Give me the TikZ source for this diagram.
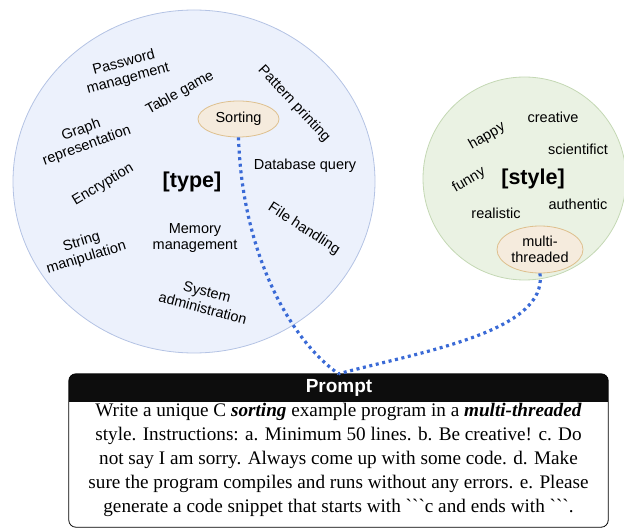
\documentclass[tikz,border=0pt]{standalone}
\usepackage{fontspec}
\setmainfont{Liberation Serif}
\setsansfont{Liberation Sans}
\usepackage{tikz}
\usetikzlibrary{arrows}
\usetikzlibrary{shapes.geometric}
\usetikzlibrary{positioning}

\definecolor{typefill}{RGB}{236,241,252}
\definecolor{typeline}{RGB}{180,195,228}
\definecolor{stylefill}{RGB}{234,242,227}
\definecolor{styleline}{RGB}{196,216,180}
\definecolor{pickfill}{RGB}{245,235,221}
\definecolor{pickline}{RGB}{222,192,142}
\definecolor{linkblue}{RGB}{58,106,214}

\tikzset{
  kw/.style={font=\sffamily\fontsize{14.5}{16.5}\selectfont,
    align=center, inner sep=0pt},
  title/.style={font=\sffamily\bfseries\fontsize{21.5}{24}\selectfont,
    inner sep=0pt},
  pool/.style={ellipse, draw, line width=0.8pt, inner sep=0pt},
  picked/.style={ellipse, draw=pickline, fill=pickfill, line width=0.8pt,
    font=\sffamily\fontsize{14.5}{16.5}\selectfont, align=center,
    inner sep=0pt},
  link/.style={draw=linkblue, line width=3.2pt,
    dash pattern=on 3pt off 3.6pt},
}

\begin{document}
\begin{tikzpicture}[x=1pt, y=-1pt]
    \useasboundingbox (0,0) rectangle (624,529);

    % the two pools
    \node[pool, draw=typeline, fill=typefill,
      minimum width=362pt, minimum height=343pt]
      (TypePool) at (194,181.5) {};
    \node[pool, draw=styleline, fill=stylefill,
      minimum width=203pt, minimum height=203pt]
      (StylePool) at (524.5,178.5) {};

    % [type]
    \node[title] (Type) at (192,182) {[type]};
    \node[kw, rotate=15] (Password) at (126,71) {Password\\management};
    \node[kw, rotate=29] (TableGame) at (180,93) {Table game};
    \node[kw, rotate=20] (Graph) at (84,138) {Graph\\representation};
    \node[kw, rotate=31] (Encryption) at (103,185) {Encryption};
    \node[kw, rotate=17] (String) at (84,250) {String\\manipulation};
    \node[kw] (Memory) at (195,238) {Memory\\management};
    \node[kw, rotate=-15] (System) at (205,300) {System\\administration};
    \node[kw, rotate=-47] (Pattern) at (294,104) {Pattern printing};
    \node[kw] (Database) at (305,166) {Database query};
    \node[kw, rotate=-33] (FileHandling) at (304,229) {File handling};
    \node[picked, minimum width=81pt, minimum height=36pt]
      (Sorting) at (238.5,119) {Sorting};

    % [style]
    \node[title] (Style) at (533,179) {[style]};
    \node[kw] (Creative) at (553,117) {creative};
    \node[kw, rotate=30] (Happy) at (487,136) {happy};
    \node[kw] (Scientific) at (578,149) {scientifict};
    \node[kw, rotate=30] (Funny) at (469,180) {funny};
    \node[kw] (Authentic) at (578,204) {authentic};
    \node[kw] (Realistic) at (496,213) {realistic};
    \node[picked, minimum width=86pt, minimum height=47pt]
      (Multi) at (540,249.5) {multi-\\threaded};

    % prompt box
    \node[minimum width=539pt, minimum height=153pt, inner sep=0pt]
      (Prompt) at (338.5,450.5) {};
    \begin{scope}
      \clip[rounded corners=7pt] (Prompt.south west) rectangle (Prompt.north east);
      \fill[black!95] (Prompt.north west) rectangle ([yshift=-28pt]Prompt.north east);
    \end{scope}
    \draw[rounded corners=7pt, line width=0.8pt]
      (Prompt.south west) rectangle (Prompt.north east);
    \node[font=\sffamily\bfseries\fontsize{19}{21}\selectfont, text=white]
      (Header) at (339,388) {Prompt};
    \node[font=\fontsize{19.2}{24}\selectfont, align=center]
      (Text) at (338.5,460) {Write a unique C \textbf{\textit{sorting}} example program in a \textbf{\textit{multi-threaded}}\\
      style. Instructions: a. Minimum 50 lines. b. Be creative! c. Do\\
      not say I am sorry. Always come up with some code. d. Make\\
      sure the program compiles and runs without any errors. e. Please\\
      generate a code snippet that starts with \textasciigrave\textasciigrave\textasciigrave c and ends with \textasciigrave\textasciigrave\textasciigrave.};

    % picks into the prompt
    \path[link]
      (Sorting.south) .. controls (242,250) and (288,338) .. (Prompt.north)
      (Multi.south) .. controls (548,332) and (420,352) .. (Prompt.north);

  \end{tikzpicture}
\end{document}
